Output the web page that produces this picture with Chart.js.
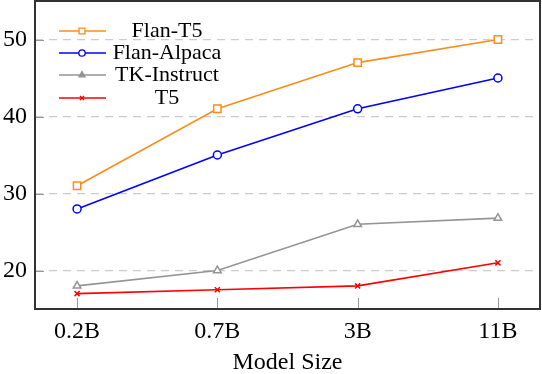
<!DOCTYPE html>
<html>
<head>
<meta charset="utf-8">
<script src="https://cdn.jsdelivr.net/npm/chart.js@4.4.1/dist/chart.umd.min.js"></script>
<style>
  html, body { margin: 0; padding: 0; background: #fff; }
  #wrap { width: 542px; height: 374px; position: relative; }
</style>
</head>
<body>
<div id="wrap"><canvas id="c"></canvas></div>
<script>
// model sizes along the x axis
const sizes = ['0.2B', '0.7B', '3B', '11B'];
const yTicks = [20, 30, 40, 50];

// scores
const flanT5 = [31, 41, 47, 50];
const flanAlpaca = [28, 35, 41, 45];
const tkInstruct = [18, 20, 26, 26.8];
const t5 = [17, 17.5, 18, 21];

const FONT = "'Liberation Serif', 'Times New Roman', serif";

const series = [
  { label: 'Flan-T5', data: flanT5, color: '#ff8c1a', style: 'rect', r: 5.2, fill: '#fff' },
  { label: 'Flan-Alpaca', data: flanAlpaca, color: '#0000ff', style: 'circle', r: 4, fill: '#fff' },
  { label: 'TK-Instruct', data: tkInstruct, color: '#959595', style: 'triangle', r: 4.4, fill: '#fff' },
  { label: 'T5', data: t5, color: '#ff0000', style: 'crossRot', r: 3.6, fill: '#ff0000' },
];

const datasets = series.map((s) => ({
  label: s.label,
  data: s.data.map((v, i) => ({ x: i, y: v })),
  borderColor: s.color,
  backgroundColor: s.fill,
  borderWidth: 1.6,
  pointStyle: s.style,
  pointRadius: s.r,
  pointBorderWidth: 1.5,
  pointBorderColor: s.color,
  pointBackgroundColor: s.fill,
  tension: 0,
}));

// frame, inner tick marks and a pgfplots-style legend (transparent, text centred)
const framePlugin = {
  id: 'frame',
  afterDraw(chart) {
    const { ctx, chartArea: a, scales } = chart;
    ctx.save();
    ctx.strokeStyle = '#999';
    ctx.lineWidth = 1;
    scales.x.ticks.forEach((t) => {
      const px = Math.round(scales.x.getPixelForValue(t.value)) + 0.5;
      ctx.beginPath();
      ctx.moveTo(px, a.bottom);
      ctx.lineTo(px, a.bottom - 11);
      ctx.stroke();
    });
    scales.y.ticks.forEach((t) => {
      const py = Math.round(scales.y.getPixelForValue(t.value)) + 0.5;
      ctx.beginPath();
      ctx.moveTo(a.left, py);
      ctx.lineTo(a.left + 9, py);
      ctx.stroke();
    });
    ctx.strokeStyle = '#333';
    ctx.lineWidth = 2;
    ctx.strokeRect(a.left, a.top, a.right - a.left, a.bottom - a.top);

    // legend
    const rows = [31, 53, 75, 98];
    chart.data.datasets.forEach((ds, i) => {
      const y = rows[i];
      ctx.strokeStyle = ds.borderColor;
      ctx.lineWidth = 1.5;
      ctx.beginPath();
      ctx.moveTo(a.left + 24, y);
      ctx.lineTo(a.left + 71, y);
      ctx.stroke();
      ctx.fillStyle = ds.pointStyle === 'triangle' ? ds.borderColor : ds.pointBackgroundColor;
      ctx.lineWidth = 1.3;
      Chart.helpers.drawPoint(ctx, { pointStyle: ds.pointStyle, radius: ds.pointRadius * 0.8, rotation: 0, borderWidth: 1.3 }, a.left + 47, y);
      ctx.fillStyle = '#000';
      ctx.font = '22px ' + FONT;
      ctx.textAlign = 'center';
      ctx.textBaseline = 'middle';
      ctx.fillText(ds.label, a.left + 132, y);
    });
    ctx.restore();
  },
};

new Chart(document.getElementById('c'), {
  type: 'line',
  data: { datasets },
  plugins: [framePlugin],
  options: {
    responsive: true,
    maintainAspectRatio: false,
    animation: false,
    layout: { autoPadding: false, padding: { top: 1, right: 2, left: 0, bottom: 0 } },
    plugins: { legend: { display: false }, tooltip: { enabled: false } },
    scales: {
      x: {
        type: 'linear',
        min: -0.3,
        max: 3.3,
        afterBuildTicks: (s) => { s.ticks = sizes.map((_, i) => ({ value: i })); },
        afterFit: (s) => { s.height = 65; s.paddingLeft = 0; s.paddingRight = 0; },
        ticks: {
          callback: (v) => sizes[v],
          color: '#000',
          font: { family: FONT, size: 24 },
          padding: 0,
          maxRotation: 0,
        },
        grid: { display: false },
        border: { display: false },
        title: { display: true, text: 'Model Size', color: '#000', font: { family: FONT, size: 24 }, padding: { top: 0, bottom: -3 } },
      },
      y: {
        min: 15,
        max: 55,
        afterBuildTicks: (s) => { s.ticks = yTicks.map((v) => ({ value: v })); },
        afterFit: (s) => { s.width = 35; s.paddingTop = 0; s.paddingBottom = 0; },
        ticks: { color: '#000', font: { family: FONT, size: 24 }, padding: 8 },
        grid: { color: '#cccccc', lineWidth: 1.3, drawTicks: false },
        border: { display: false, dash: [8, 6] },
      },
    },
  },
});
</script>
</body>
</html>
